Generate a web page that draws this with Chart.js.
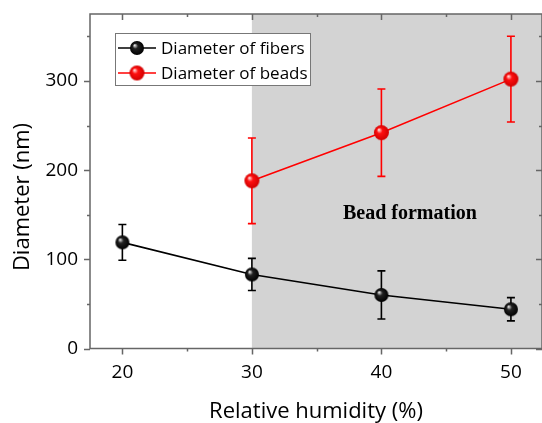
<!DOCTYPE html>
<html>
<head>
    <meta charset="UTF-8">
    <title>Diameter vs relative humidity</title>
    <script src="https://cdn.jsdelivr.net/npm/chart.js"></script>
    <style>
        html, body { margin: 0; padding: 0; background: #fff; }
        #wrap { width: 542px; height: 423px; }
    </style>
</head>
<body>
    <div id="wrap"><canvas id="chartCanvas" width="542" height="423"></canvas></div>

    <script>
        // valeurs
        const humidity = [20, 30, 40, 50];
        const fiberDiam = [119, 83, 60, 44];
        const fiberErr = [20, 18, 27, 13];
        const beadHumidity = [30, 40, 50];
        const beadDiam = [188, 242, 302];
        const beadErr = [48, 49, 48];
        const xTicks = [20, 30, 40, 50];
        const yTicks = [0, 100, 200, 300];
        const xMinor = [25, 35, 45];
        const yMinor = [50, 150, 250, 350];
        const beadStart = 30;

        const FONT = "'Open Sans', 'DejaVu Sans', sans-serif";
        const AXIS = "#666";

        function sphere(r, light, mid, dark) {
            const c = document.createElement("canvas");
            c.width = c.height = r * 2 + 2;
            const g = c.getContext("2d");
            const cx = r + 1, cy = r + 1;
            const grad = g.createRadialGradient(cx - r * 0.35, cy - r * 0.4, r * 0.05, cx, cy, r);
            grad.addColorStop(0, light);
            grad.addColorStop(0.35, mid);
            grad.addColorStop(1, dark);
            g.fillStyle = grad;
            g.beginPath();
            g.arc(cx, cy, r, 0, Math.PI * 2);
            g.fill();
            return c;
        }
        const blackBall = sphere(7, "#e8e8e8", "#222", "#000");
        const redBall = sphere(7.5, "#ffe0e0", "#ff1010", "#d00000");

        const fiberPts = humidity.map((x, i) => ({ x: x, y: fiberDiam[i], e: fiberErr[i] }));
        const beadPts = beadHumidity.map((x, i) => ({ x: x, y: beadDiam[i], e: beadErr[i] }));

        const decor = {
            id: "decor",
            beforeDatasetsDraw(chart) {
                const { ctx, chartArea: a, scales: { x, y } } = chart;
                ctx.save();
                ctx.fillStyle = "#d3d3d3";
                const gx = x.getPixelForValue(beadStart);
                ctx.fillRect(gx, a.top, a.right - gx, a.bottom - a.top);
                ctx.font = "bold 20px 'Liberation Serif', 'Times New Roman', serif";
                ctx.fillStyle = "#000";
                ctx.textAlign = "center";
                ctx.textBaseline = "middle";
                ctx.fillText("Bead formation", x.getPixelForValue(42.2), y.getPixelForValue(151));
                // barres d'erreur
                chart.data.datasets.forEach(ds => {
                    ctx.strokeStyle = ds.borderColor;
                    ctx.lineWidth = 1.6;
                    ds.data.forEach(p => {
                        const px = x.getPixelForValue(p.x);
                        const t = y.getPixelForValue(p.y + p.e);
                        const b = y.getPixelForValue(p.y - p.e);
                        ctx.beginPath();
                        ctx.moveTo(px, t); ctx.lineTo(px, b);
                        ctx.moveTo(px - 4, t); ctx.lineTo(px + 4, t);
                        ctx.moveTo(px - 4, b); ctx.lineTo(px + 4, b);
                        ctx.stroke();
                    });
                });
                ctx.restore();
            },
            afterDraw(chart) {
                const { ctx, chartArea: a, scales: { x, y } } = chart;
                ctx.save();
                ctx.strokeStyle = AXIS;
                ctx.lineWidth = 1.5;
                ctx.strokeRect(a.left, a.top, a.right - a.left, a.bottom - a.top);
                ctx.beginPath();
                xTicks.concat(xMinor).forEach(v => {
                    const px = Math.round(x.getPixelForValue(v)) + 0.5;
                    const len = xTicks.includes(v) ? 6 : 3;
                    ctx.moveTo(px, a.bottom); ctx.lineTo(px, a.bottom + len);
                    ctx.moveTo(px, a.top); ctx.lineTo(px, a.top + len);
                });
                yTicks.concat(yMinor).forEach(v => {
                    const py = Math.round(y.getPixelForValue(v)) + 0.5;
                    const len = yTicks.includes(v) ? 6 : 3;
                    ctx.moveTo(a.left, py); ctx.lineTo(a.left - len, py);
                    ctx.moveTo(a.right, py); ctx.lineTo(a.right - len, py);
                });
                ctx.stroke();

                // titre vertical
                ctx.fillStyle = "#000";
                ctx.font = "22px " + FONT;
                ctx.textAlign = "center";
                ctx.textBaseline = "middle";
                ctx.translate(23, 197);
                ctx.rotate(-Math.PI / 2);
                ctx.fillText("Diameter (nm)", 0, 0);
                ctx.restore();

                // légende
                ctx.save();
                const lx = 115, ly = 33, lw = 195, lh = 52;
                ctx.fillStyle = "#fff";
                ctx.fillRect(lx, ly, lw, lh);
                ctx.strokeStyle = "#777";
                ctx.lineWidth = 1;
                ctx.strokeRect(lx + 0.5, ly + 0.5, lw, lh);
                ctx.font = "17px " + FONT;
                ctx.textBaseline = "middle";
                chart.data.datasets.forEach((ds, i) => {
                    const ry = ly + 15 + i * 25;
                    ctx.strokeStyle = ds.borderColor;
                    ctx.lineWidth = 1.6;
                    ctx.beginPath();
                    ctx.moveTo(lx + 3, ry); ctx.lineTo(lx + 41, ry);
                    ctx.stroke();
                    const img = ds.pointStyle;
                    ctx.drawImage(img, lx + 22 - img.width / 2, ry - img.height / 2);
                    ctx.fillStyle = "#000";
                    ctx.fillText(ds.label, lx + 46, ry + 1);
                });
                ctx.restore();
            }
        };

        new Chart(document.getElementById("chartCanvas"), {
            type: "scatter",
            data: {
                datasets: [
                    {
                        label: "Diameter of fibers",
                        data: fiberPts,
                        showLine: true,
                        borderColor: "#000",
                        borderWidth: 1.6,
                        pointStyle: blackBall,
                        pointRadius: 7
                    },
                    {
                        label: "Diameter of beads",
                        data: beadPts,
                        showLine: true,
                        borderColor: "#ff0000",
                        borderWidth: 1.6,
                        pointStyle: redBall,
                        pointRadius: 7.5
                    }
                ]
            },
            plugins: [decor],
            options: {
                responsive: false,
                animation: false,
                layout: { autoPadding: false, padding: { top: 14, right: 0, left: 0, bottom: 0 } },
                plugins: { legend: { display: false }, tooltip: { enabled: false } },
                scales: {
                    x: {
                        type: "linear",
                        min: 17.5,
                        max: 52.4,
                        grid: { display: false, drawTicks: false },
                        border: { display: false },
                        afterBuildTicks: s => { s.ticks = xTicks.map(v => ({ value: v })); },
                        afterFit: s => { s.height = 74.5; s.paddingLeft = 0; s.paddingRight = 0; },
                        ticks: { color: "#000", padding: 13, font: { family: FONT, size: 19 } },
                        title: {
                            display: true,
                            text: "Relative humidity (%)",
                            color: "#000",
                            font: { family: FONT, size: 22 },
                            padding: { top: 0, bottom: -2 }
                        }
                    },
                    y: {
                        min: 0,
                        max: 375,
                        grid: { display: false, drawTicks: false },
                        border: { display: false },
                        afterBuildTicks: s => { s.ticks = yTicks.map(v => ({ value: v })); },
                        afterFit: s => { s.width = 90; s.paddingTop = 0; s.paddingBottom = 0; },
                        ticks: { color: "#000", padding: 12, font: { family: FONT, size: 19 } }
                    }
                }
            }
        });
    </script>
</body>
</html>
